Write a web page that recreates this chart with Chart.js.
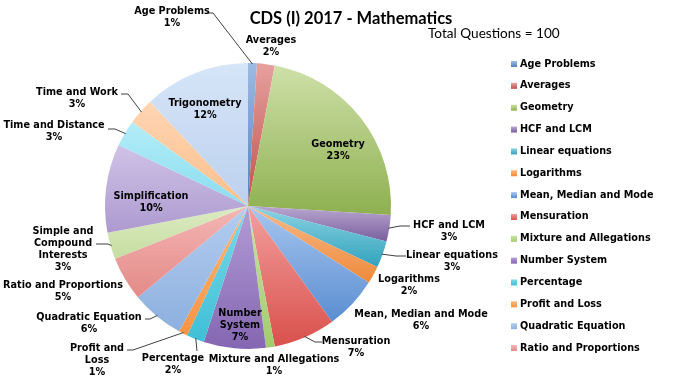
<!DOCTYPE html>
<html>
<head>
<meta charset="utf-8">
<script src="https://cdn.jsdelivr.net/npm/chart.js@4.4.0/dist/chart.umd.min.js"></script>
<style>
    html, body { margin: 0; padding: 0; background: #fff; }
    canvas { display: block; }
</style>
</head>
<body>
<canvas id="c" width="690" height="381"></canvas>
<script>
(function () {
    'use strict';

    // --- data ---
    const categories = [
        'Age Problems', 'Averages', 'Geometry', 'HCF and LCM', 'Linear equations',
        'Logarithms', 'Mean, Median and Mode', 'Mensuration', 'Mixture and Allegations',
        'Number System', 'Percentage', 'Profit and Loss', 'Quadratic Equation',
        'Ratio and Proportions', 'Simple and Compound Interests', 'Simplification',
        'Time and Distance', 'Time and Work', 'Trigonometry'
    ];
    const questions = [1, 2, 23, 3, 3, 2, 6, 7, 1, 7, 2, 1, 6, 5, 3, 10, 3, 3, 12];
    const chartTitle = 'CDS (I) 2017 - Mathematics';
    const subTitle = 'Total Questions = 100';

    // --- styles (light top -> darker bottom of each slice) ---
    const topColors = [
        '#9DBBE3', '#E6A19F', '#CEE0A8', '#B9A8D0', '#8ED3E3',
        '#F9B98A', '#A8C6EE', '#F3A09E', '#C9E3A4',
        '#B39DD6', '#7ED9E9', '#FFB777', '#B4CDEF',
        '#F3B6B4', '#DCEBC4', '#CFC2E6',
        '#B4EDF8', '#FFD5B3', '#D6E5F8'
    ];
    const baseColors = [
        '#4F81BD', '#C0504D', '#8EB050', '#7A5E9E', '#31A3BD',
        '#EE8A3A', '#5A8ED2', '#D9504C', '#A3CC6E',
        '#8466B2', '#3EBFD6', '#FB9443', '#8DB0DF',
        '#E48A88', '#C5DDA0', '#AD9AD0',
        '#8ADCF0', '#FCBF8C', '#BCD1EE'
    ];

    // --- label layout: text centre, optional wrapping, optional leader start ---
    const labelLayout = [
        { x: 172, y: 11, lead: [207, 13, 213] },
        { x: 271, y: 40 },
        { x: 338, y: 144 },
        { x: 449, y: 225, lead: [410, 226, 400] },
        { x: 452, y: 255, lead: [406, 256, 396] },
        { x: 409, y: 279 },
        { x: 421, y: 314 },
        { x: 356, y: 341, lead: [322, 342, 315] },
        { x: 274, y: 359 },
        { x: 240, y: 313, wrap: ['Number', 'System'] },
        { x: 173, y: 358, lead: [197, 351, 197] },
        { x: 97, y: 348, wrap: ['Profit and', 'Loss'], lead: [127, 350, 133] },
        { x: 89, y: 317, lead: [145, 319, 150] },
        { x: 63, y: 285 },
        { x: 63, y: 231, wrap: ['Simple and', 'Compound', 'Interests'], lead: [96, 244, 108] },
        { x: 151, y: 196 },
        { x: 54, y: 125, lead: [108, 129, 115] },
        { x: 77, y: 92, lead: [121, 94, 128] },
        { x: 205, y: 103 }
    ];

    const LABEL_FONT = 'bold 9.7px "DejaVu Sans", Verdana, sans-serif';
    const total = questions.reduce((a, b) => a + b, 0);

    function sliceGradient(ctx) {
        const chart = ctx.chart;
        const area = chart.chartArea;
        const i = ctx.dataIndex;
        if (!area || i == null) return baseColors[i] || '#ccc';
        const cx = (area.left + area.right) / 2;
        const cy = (area.top + area.bottom) / 2;
        const r = Math.min(area.right - area.left, area.bottom - area.top) / 2;
        let before = 0;
        for (let k = 0; k < i; k++) before += questions[k];
        const a0 = -Math.PI / 2 + before / total * Math.PI * 2;
        const a1 = a0 + questions[i] / total * Math.PI * 2;
        const ys = [cy, cy + r * Math.sin(a0), cy + r * Math.sin(a1)];
        [-Math.PI / 2, Math.PI / 2, Math.PI * 1.5].forEach(t => {
            if (t >= a0 && t <= a1) ys.push(cy + r * Math.sin(t));
        });
        const y0 = Math.min(...ys), y1 = Math.max(...ys);
        const g = chart.ctx.createLinearGradient(0, y0, 0, y1 + 0.01);
        g.addColorStop(0, topColors[i]);
        g.addColorStop(1, baseColors[i]);
        return g;
    }

    const decorPlugin = {
        id: 'decor',
        afterDraw(chart) {
            const ctx = chart.ctx;
            const meta = chart.getDatasetMeta(0);
            ctx.save();

            // title + subtitle
            ctx.fillStyle = '#000';
            ctx.textAlign = 'center';
            ctx.textBaseline = 'alphabetic';
            ctx.font = 'bold 16.5px Lato, "Liberation Sans", sans-serif';
            ctx.fillText(chartTitle, 351, 24);
            ctx.textAlign = 'left';
            ctx.font = '13.6px Lato, "Liberation Sans", sans-serif';
            ctx.fillText(subTitle, 428, 38);

            // leader lines
            ctx.strokeStyle = '#404040';
            ctx.lineWidth = 1;
            meta.data.forEach((arc, i) => {
                const lay = labelLayout[i];
                if (!lay || !lay.lead) return;
                const p = arc.getProps(['x', 'y', 'startAngle', 'endAngle', 'outerRadius'], true);
                const mid = (p.startAngle + p.endAngle) / 2;
                const ex = p.x + Math.cos(mid) * (p.outerRadius - 1);
                const ey = p.y + Math.sin(mid) * (p.outerRadius - 1);
                const [x0, y0, x1] = lay.lead;
                ctx.beginPath();
                ctx.moveTo(x0, y0);
                ctx.lineTo(x1, y0);
                ctx.lineTo(ex, ey);
                ctx.stroke();
            });

            // data labels
            ctx.font = LABEL_FONT;
            ctx.textAlign = 'center';
            ctx.textBaseline = 'middle';
            ctx.fillStyle = '#000';
            categories.forEach((name, i) => {
                const lay = labelLayout[i];
                const lines = (lay.wrap || [name]).concat([Math.round(questions[i] / total * 100) + '%']);
                lines.forEach((t, k) => ctx.fillText(t, lay.x, lay.y + k * 12.3));
            });

            // legend (truncated by the bottom edge as in the original)
            ctx.textAlign = 'left';
            categories.forEach((name, i) => {
                const y = 64 + i * 21.85;
                if (y > 355) return;
                const g = ctx.createLinearGradient(0, y - 3, 0, y + 3);
                g.addColorStop(0, topColors[i]);
                g.addColorStop(1, baseColors[i]);
                ctx.fillStyle = g;
                ctx.fillRect(511, y - 3, 6, 6);
                ctx.fillStyle = '#000';
                ctx.fillText(name, 520, y);
            });
            ctx.restore();
        }
    };

    new Chart(document.getElementById('c'), {
        type: 'pie',
        data: {
            labels: categories,
            datasets: [{
                data: questions,
                backgroundColor: sliceGradient,
                borderWidth: 0
            }]
        },
        options: {
            responsive: false,
            animation: false,
            devicePixelRatio: 1,
            layout: { padding: { left: 105, right: 299, top: 63, bottom: 32 } },
            plugins: {
                legend: { display: false },
                title: { display: false },
                tooltip: { enabled: false }
            }
        },
        plugins: [decorPlugin]
    });
})();
</script>
</body>
</html>
